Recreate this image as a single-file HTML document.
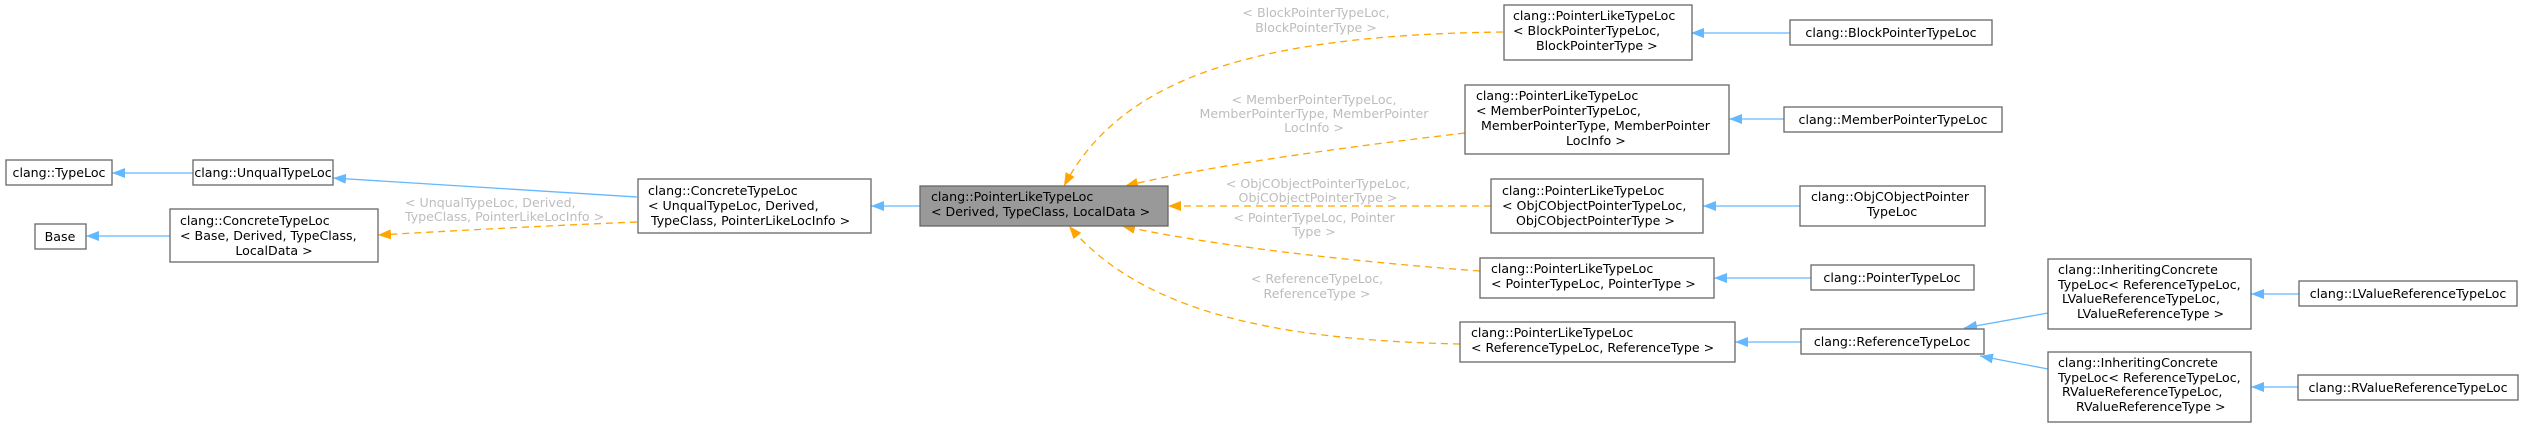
<!DOCTYPE html>
<html><head><meta charset="utf-8"><style>
html,body{margin:0;padding:0;background:#fff;}
svg{display:block;}
text{font-family:"DejaVu Sans","Liberation Sans",sans-serif;font-size:12.6px;fill:#000;}
.l{fill:#bdbdbd;}
.m{text-anchor:middle;}
rect{fill:#fff;stroke:#666;stroke-width:1.3;}
.b{stroke:#63b8ff;stroke-width:1.3;fill:none;}
.o{stroke:#ffa500;stroke-width:1.3;fill:none;stroke-dasharray:7,5;}
</style></head><body>
<svg width="2544" height="427" viewBox="0 0 2544 427" xmlns="http://www.w3.org/2000/svg">
<defs>
<marker id="ab" markerWidth="14" markerHeight="10" refX="13" refY="5" orient="auto" markerUnits="userSpaceOnUse"><path d="M0,0 L13,5 L0,10 z" fill="#63b8ff"/></marker>
<marker id="ao" markerWidth="14" markerHeight="10" refX="13" refY="5" orient="auto" markerUnits="userSpaceOnUse"><path d="M0,0 L13,5 L0,10 z" fill="#ffa500"/></marker>
</defs>

<!-- blue edges -->
<path class="b" d="M193,173 L112,173" marker-end="url(#ab)"/>
<path class="b" d="M637,197 L333,178" marker-end="url(#ab)"/>
<path class="b" d="M170,236 L86,236" marker-end="url(#ab)"/>
<path class="b" d="M920,206 L871,206" marker-end="url(#ab)"/>
<path class="b" d="M1792,33 L1691,33" marker-end="url(#ab)"/>
<path class="b" d="M1784,119 L1729,119" marker-end="url(#ab)"/>
<path class="b" d="M1800,206 L1703,206" marker-end="url(#ab)"/>
<path class="b" d="M1811,278 L1714,278" marker-end="url(#ab)"/>
<path class="b" d="M1801,342 L1735,342" marker-end="url(#ab)"/>
<path class="b" d="M2048,313 L1964,328" marker-end="url(#ab)"/>
<path class="b" d="M2048,369 L1980,356" marker-end="url(#ab)"/>
<path class="b" d="M2299,294 L2251,294" marker-end="url(#ab)"/>
<path class="b" d="M2298,387 L2251,387" marker-end="url(#ab)"/>

<!-- orange edges -->
<path class="o" d="M637,222 C540,226 450,231 378,235" marker-end="url(#ao)"/>
<path class="o" d="M1503,32 C1250,35 1120,80 1064,186" marker-end="url(#ao)"/>
<path class="o" d="M1465,133 C1320,150 1200,168 1125,186" marker-end="url(#ao)"/>
<path class="o" d="M1491,206 L1168,206" marker-end="url(#ao)"/>
<path class="o" d="M1480,271 C1330,260 1200,243 1122,226" marker-end="url(#ao)"/>
<path class="o" d="M1460,344 C1270,340 1140,310 1069,226" marker-end="url(#ao)"/>

<!-- edge labels -->
<text class="l" x="405" y="207">&lt; UnqualTypeLoc, Derived,</text>
<text class="l" x="405" y="221">TypeClass, PointerLikeLocInfo &gt;</text>
<text class="l m" x="1316" y="17">&lt; BlockPointerTypeLoc,</text>
<text class="l m" x="1316" y="32">BlockPointerType &gt;</text>
<text class="l m" x="1314" y="104">&lt; MemberPointerTypeLoc,</text>
<text class="l m" x="1314" y="118">MemberPointerType, MemberPointer</text>
<text class="l m" x="1314" y="132">LocInfo &gt;</text>
<text class="l m" x="1318" y="188">&lt; ObjCObjectPointerTypeLoc,</text>
<text class="l m" x="1318" y="202">ObjCObjectPointerType &gt;</text>
<text class="l m" x="1314" y="222">&lt; PointerTypeLoc, Pointer</text>
<text class="l m" x="1314" y="236">Type &gt;</text>
<text class="l m" x="1317" y="283">&lt; ReferenceTypeLoc,</text>
<text class="l m" x="1317" y="298">ReferenceType &gt;</text>

<!-- nodes -->
<rect x="6" y="160" width="106" height="25"/>
<text class="m" x="59" y="177">clang::TypeLoc</text>
<rect x="193" y="160" width="140" height="25"/>
<text class="m" x="263" y="177">clang::UnqualTypeLoc</text>
<rect x="35" y="224" width="51" height="25"/>
<text class="m" x="60" y="241">Base</text>
<rect x="170" y="209" width="208" height="53"/>
<text x="180" y="225">clang::ConcreteTypeLoc</text>
<text x="180" y="240">&lt; Base, Derived, TypeClass,</text>
<text class="m" x="274" y="255">LocalData &gt;</text>

<rect x="638" y="179" width="233" height="54"/>
<text x="648" y="195">clang::ConcreteTypeLoc</text>
<text x="648" y="210">&lt; UnqualTypeLoc, Derived,</text>
<text x="651" y="225">TypeClass, PointerLikeLocInfo &gt;</text>

<rect x="920" y="186" width="248" height="40" style="fill:#999"/>
<text x="931" y="201">clang::PointerLikeTypeLoc</text>
<text x="931" y="216">&lt; Derived, TypeClass, LocalData &gt;</text>

<rect x="1504" y="5" width="188" height="55"/>
<text x="1513" y="20">clang::PointerLikeTypeLoc</text>
<text x="1513" y="35">&lt; BlockPointerTypeLoc,</text>
<text x="1536" y="50">BlockPointerType &gt;</text>
<rect x="1790" y="20" width="202" height="25"/>
<text class="m" x="1891" y="37">clang::BlockPointerTypeLoc</text>

<rect x="1465" y="85" width="264" height="69"/>
<text x="1476" y="100">clang::PointerLikeTypeLoc</text>
<text x="1476" y="115">&lt; MemberPointerTypeLoc,</text>
<text x="1481" y="130">MemberPointerType, MemberPointer</text>
<text x="1566" y="145">LocInfo &gt;</text>
<rect x="1784" y="107" width="218" height="25"/>
<text class="m" x="1893" y="124">clang::MemberPointerTypeLoc</text>

<rect x="1491" y="179" width="212" height="54"/>
<text x="1502" y="195">clang::PointerLikeTypeLoc</text>
<text x="1502" y="210">&lt; ObjCObjectPointerTypeLoc,</text>
<text x="1516" y="225">ObjCObjectPointerType &gt;</text>
<rect x="1800" y="186" width="185" height="40"/>
<text x="1811" y="201">clang::ObjCObjectPointer</text>
<text class="m" x="1892" y="216">TypeLoc</text>

<rect x="1480" y="258" width="234" height="40"/>
<text x="1491" y="273">clang::PointerLikeTypeLoc</text>
<text x="1491" y="288">&lt; PointerTypeLoc, PointerType &gt;</text>
<rect x="1811" y="265" width="163" height="25"/>
<text class="m" x="1892" y="282">clang::PointerTypeLoc</text>

<rect x="1460" y="322" width="275" height="40"/>
<text x="1471" y="337">clang::PointerLikeTypeLoc</text>
<text x="1471" y="352">&lt; ReferenceTypeLoc, ReferenceType &gt;</text>
<rect x="1801" y="329" width="183" height="25"/>
<text class="m" x="1892" y="346">clang::ReferenceTypeLoc</text>

<rect x="2048" y="259" width="203" height="70"/>
<text x="2058" y="274">clang::InheritingConcrete</text>
<text x="2058" y="289">TypeLoc&lt; ReferenceTypeLoc,</text>
<text x="2062" y="303">LValueReferenceTypeLoc,</text>
<text x="2077" y="318">LValueReferenceType &gt;</text>
<rect x="2299" y="281" width="218" height="25"/>
<text class="m" x="2408" y="298">clang::LValueReferenceTypeLoc</text>

<rect x="2048" y="352" width="203" height="70"/>
<text x="2058" y="367">clang::InheritingConcrete</text>
<text x="2058" y="382">TypeLoc&lt; ReferenceTypeLoc,</text>
<text x="2062" y="396">RValueReferenceTypeLoc,</text>
<text x="2076" y="411">RValueReferenceType &gt;</text>
<rect x="2298" y="375" width="220" height="25"/>
<text class="m" x="2408" y="392">clang::RValueReferenceTypeLoc</text>
</svg>
</body></html>
